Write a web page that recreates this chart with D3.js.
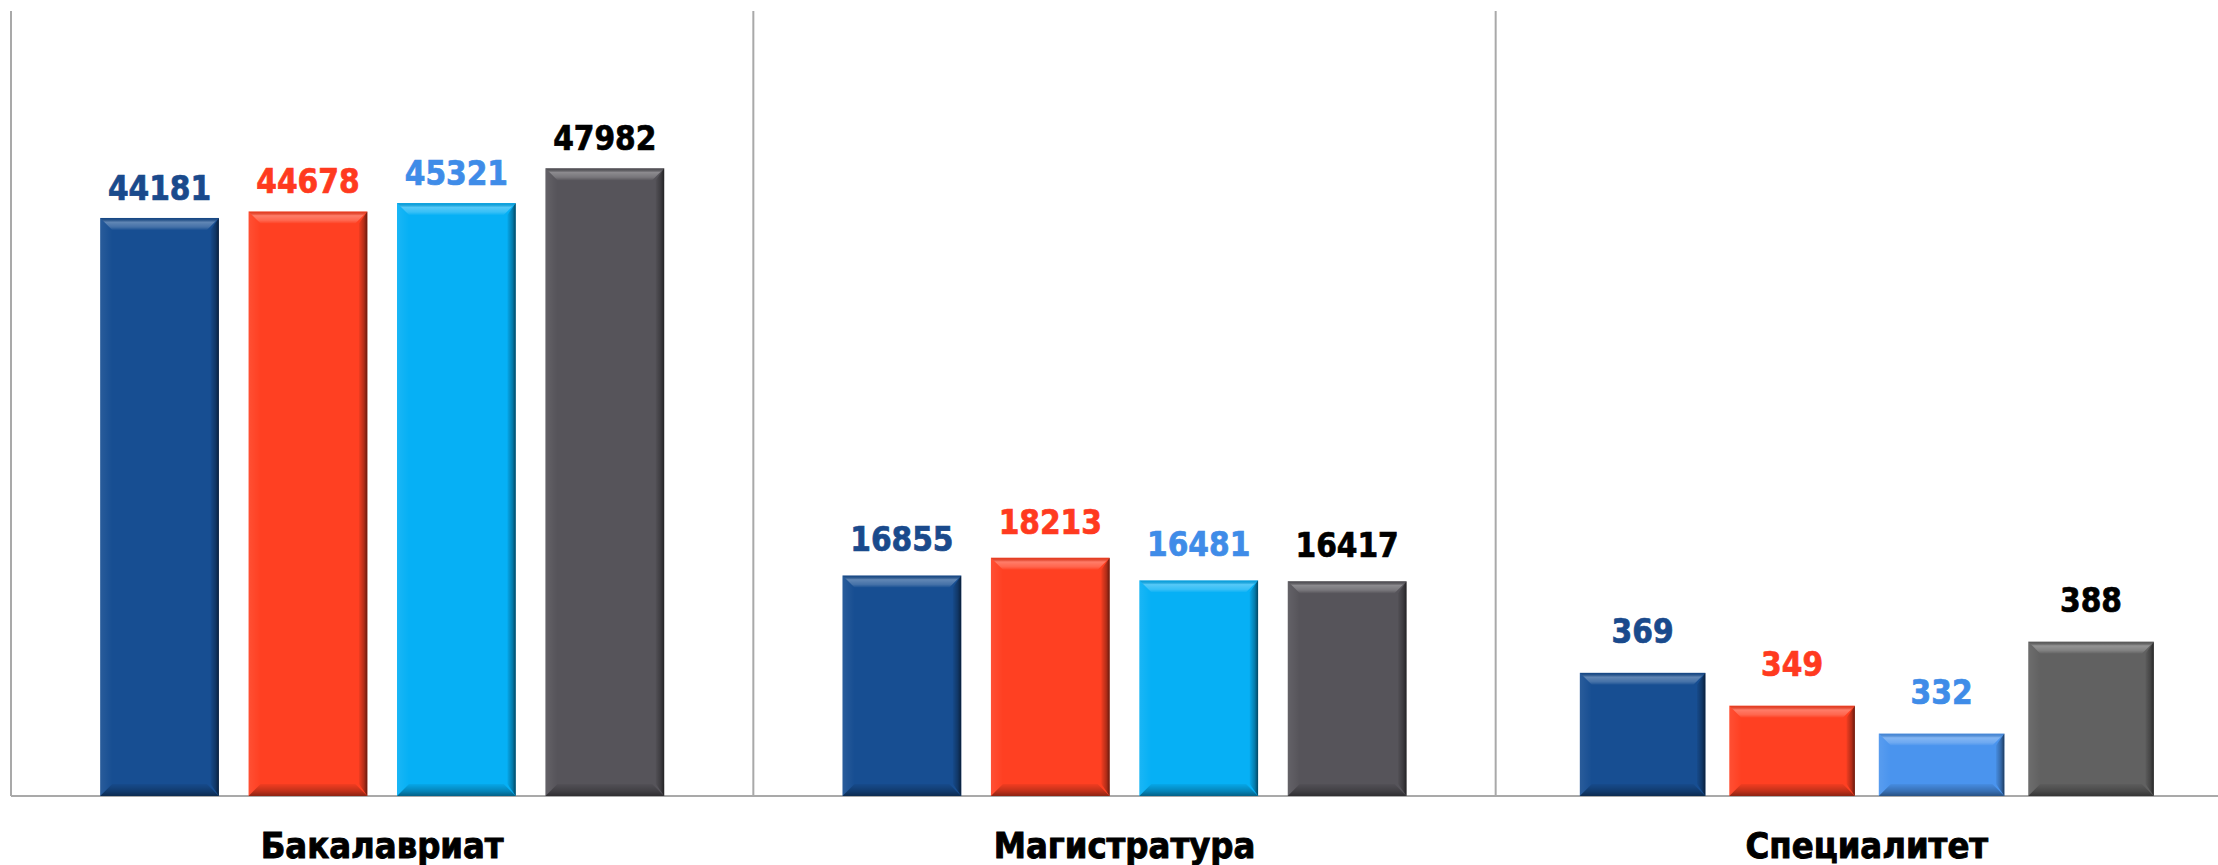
<!DOCTYPE html>
<html>
<head>
<meta charset="utf-8">
<script src="https://cdn.jsdelivr.net/npm/d3@7"></script>
<style>
  html, body { margin: 0; padding: 0; background: #ffffff; }
  svg { display: block; }
</style>
</head>
<body>
<svg id="chart" width="2218" height="865"></svg>
<script>
// ---- data ----
const categories = ["Бакалавриат", "Магистратура", "Специалитет"];
const seriesKeys = ["s1", "s2", "s3", "s4"];
const series1 = [44181, 16855, 369];
const series2 = [44678, 18213, 349];
const series3 = [45321, 16481, 332];
const series4 = [47982, 16417, 388];
const seriesValues = [series1, series2, series3, series4];

// ---- styles ----
const barColors = [
  ["#174E92", "#FF4022", "#06B0F5", "#56545A"],
  ["#174E92", "#FF4022", "#06B0F5", "#56545A"],
  ["#174E92", "#FF4022", "#4A94EE", "#616161"]
];
const labelColors = ["#1A4A8C", "#FF3A1F", "#3F8CE8", "#000000"];

const W = 2218, H = 865;
const topY = 11, baseY = 796;
const svg = d3.select("#chart");

// panel scale
const xPanel = d3.scaleBand().domain(categories).range([11, 2238]).padding(0);

// value scales: first two panels share one, third has its own
const yMain = d3.scaleLinear().domain([0, 60000]).range([baseY, topY]);
const ySpec = d3.scaleLinear().domain([294, 772]).range([baseY, topY]);
const yFor = [yMain, yMain, ySpec];
const barHalf = [282, 282, 287];
const barPad = [0.2, 0.2, 0.16];
const labelGap = [18, 24, 30];

// gradients for bevel
const defs = svg.append("defs");
function lin(id, x1, y1, x2, y2, stops) {
  const g = defs.append("linearGradient").attr("id", id)
    .attr("x1", x1).attr("y1", y1).attr("x2", x2).attr("y2", y2);
  stops.forEach(s => g.append("stop").attr("offset", s[0]).attr("stop-color", s[1]).attr("stop-opacity", s[2]));
}
lin("gTop", 0, 0, 0, 1, [[0, "#000", 0.08], [0.35, "#fff", 0.32], [0.75, "#fff", 0.2], [1, "#fff", 0.02]]);
lin("gRight", 0, 0, 1, 0, [[0, "#000", 0.05], [0.6, "#000", 0.3], [1, "#000", 0.6]]);
lin("gBottom", 0, 0, 0, 1, [[0, "#000", 0.05], [0.6, "#000", 0.25], [1, "#000", 0.45]]);
lin("gLeft", 1, 0, 0, 0, [[0, "#fff", 0.0], [1, "#fff", 0.08]]);

// frame lines
const frame = svg.append("g").attr("stroke", "#A9A9A9").attr("stroke-width", 2);
categories.forEach(c => {
  frame.append("line").attr("x1", xPanel(c)).attr("x2", xPanel(c))
    .attr("y1", topY).attr("y2", baseY);
});
frame.append("line").attr("x1", xPanel(categories[0])).attr("x2", W)
  .attr("y1", baseY).attr("y2", baseY);

const fontFam = "'DejaVu Sans Condensed', 'DejaVu Sans', sans-serif";

categories.forEach((cat, ci) => {
  const cx = xPanel(cat) + xPanel.bandwidth() / 2;
  const xs = d3.scaleBand().domain(seriesKeys)
    .range([cx - barHalf[ci], cx + barHalf[ci]]).paddingInner(barPad[ci]).paddingOuter(0);
  const y = yFor[ci];
  const g = svg.append("g");
  seriesKeys.forEach((k, si) => {
    const v = seriesValues[si][ci];
    const x = xs(k), w = xs.bandwidth();
    const yt = y(v), h = baseY - yt;
    const b = Math.min(12, h / 3);
    const bg = g.append("g");
    bg.append("rect").attr("x", x).attr("y", yt).attr("width", w).attr("height", h)
      .attr("fill", barColors[ci][si]);
    const p = pts => pts.map(q => q.join(",")).join(" ");
    bg.append("polygon").attr("points", p([[x, yt], [x + w, yt], [x + w - b, yt + b], [x + b, yt + b]]))
      .attr("fill", "url(#gTop)");
    bg.append("polygon").attr("points", p([[x, yt], [x + b, yt + b], [x + b, baseY - b], [x, baseY]]))
      .attr("fill", "url(#gLeft)");
    bg.append("polygon").attr("points", p([[x + w, yt], [x + w, baseY], [x + w - b * 0.7, baseY - b], [x + w - b * 0.7, yt + b]]))
      .attr("fill", "url(#gRight)");
    bg.append("polygon").attr("points", p([[x, baseY], [x + w, baseY], [x + w - b, baseY - b], [x + b, baseY - b]]))
      .attr("fill", "url(#gBottom)");
    g.append("text")
      .attr("x", x + w / 2).attr("y", yt - labelGap[ci])
      .attr("text-anchor", "middle")
      .attr("font-family", fontFam).attr("font-weight", "bold")
      .attr("font-size", 33)
      .attr("fill", labelColors[si])
      .attr("stroke", labelColors[si]).attr("stroke-width", 0.7)
      .text(v);
  });
  svg.append("text")
    .attr("x", cx).attr("y", 858)
    .attr("text-anchor", "middle")
    .attr("font-family", fontFam).attr("font-weight", "bold")
    .attr("font-size", 36).attr("fill", "#000")
    .attr("stroke", "#000").attr("stroke-width", 0.9)
    .text(cat);
});
</script>
</body>
</html>
